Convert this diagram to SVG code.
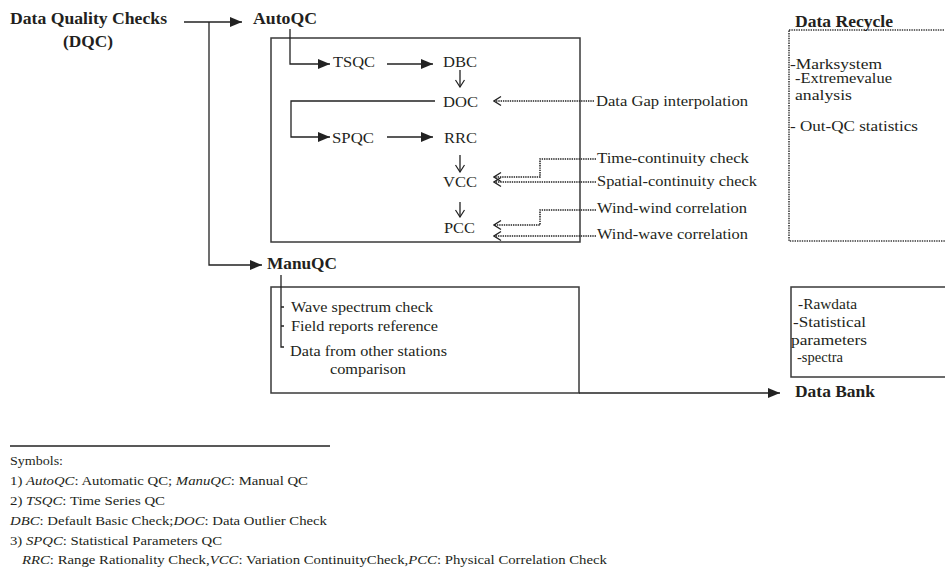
<svg xmlns="http://www.w3.org/2000/svg" width="945" height="568" viewBox="0 0 945 568">
  <style>
    text { font-family: "Liberation Serif", "Times New Roman", serif; fill: #231f20; }
    .b { font-weight: bold; font-size: 16.5px; }
    .r { font-size: 14.5px; }
    .s { font-size: 14.5px; }
    .lg { font-size: 13px; }
    .box { fill: none; stroke: #3a3a3a; stroke-width: 1.5; }
    .dbox { fill: none; stroke: #3a3a3a; stroke-width: 1.6; stroke-dasharray: 1.4 1; }
    .ln { fill: none; stroke: #222; stroke-width: 1.3; }
    .dot { fill: none; stroke: #222; stroke-width: 1.5; stroke-dasharray: 1.4 0.9; }
  </style>
  <defs>
    <marker id="solid" viewBox="0 0 12 10" refX="12" refY="5" markerWidth="12" markerHeight="10" orient="auto" markerUnits="userSpaceOnUse">
      <path d="M0,0 L12,5 L0,10 z" fill="#222"/>
    </marker>
    <marker id="open" viewBox="-8 -6 9 12" refX="0" refY="0" markerWidth="9" markerHeight="12" orient="auto" markerUnits="userSpaceOnUse">
      <path d="M-7,-4.5 L0,0 L-7,4.5" fill="none" stroke="#222" stroke-width="1.2"/>
    </marker>
    <marker id="chev" viewBox="-8 -6 9 12" refX="0" refY="0" markerWidth="9" markerHeight="12" orient="auto" markerUnits="userSpaceOnUse">
      <path d="M-7,-4.5 L0,0 L-7,4.5" fill="none" stroke="#222" stroke-width="1.3"/>
    </marker>
  </defs>

  <!-- containers -->
  <g id="autoqc-box"><rect class="box" x="271" y="38" width="309" height="204"/></g>
  <g id="manuqc-box"><rect class="box" x="271" y="287" width="308" height="106"/></g>
  <g id="recycle-box"><rect class="dbox" x="789" y="30" width="180" height="211"/></g>
  <g id="bank-box"><rect class="box" x="791" y="287" width="180" height="90"/></g>

  <!-- connectors -->
  <g id="connectors">
    <path class="ln" d="M184,22 H242" marker-end="url(#solid)"/>
    <path class="ln" d="M209,22 V265 H262" marker-end="url(#solid)"/>
    <path class="ln" d="M290,29 V64 H330" marker-end="url(#solid)"/>
    <path class="ln" d="M387,64 H433" marker-end="url(#solid)"/>
    <path class="ln" d="M460,70 V87" marker-end="url(#open)"/>
    <path class="ln" d="M435,101 H291 V137 H330" marker-end="url(#solid)"/>
    <path class="ln" d="M387,137 H433" marker-end="url(#solid)"/>
    <path class="ln" d="M460,155 V172" marker-end="url(#open)"/>
    <path class="ln" d="M460,202 V217" marker-end="url(#open)"/>
    <path class="ln" d="M579,393 H780" marker-end="url(#solid)"/>
    <path class="ln" d="M281,275 V347 H284 M281,307 H284 M281,326 H284"/>
    <path class="dot" d="M594,101 H494" marker-end="url(#chev)"/>
    <path class="dot" d="M596,159 H540 V177 H494" marker-end="url(#chev)"/>
    <path class="dot" d="M596,182 H494" marker-end="url(#chev)"/>
    <path class="dot" d="M596,210 H540 V225 H494" marker-end="url(#chev)"/>
    <path class="dot" d="M596,236 H494" marker-end="url(#chev)"/>
  </g>

  <!-- headings -->
  <g id="dqc">
    <text class="b" x="10" y="24" textLength="157" lengthAdjust="spacingAndGlyphs">Data Quality Checks</text>
    <text class="b" x="63" y="47" textLength="50" lengthAdjust="spacingAndGlyphs">(DQC)</text>
  </g>
  <g id="autoqc"><text class="b" x="253" y="24" textLength="64" lengthAdjust="spacingAndGlyphs">AutoQC</text></g>
  <g id="manuqc"><text class="b" x="267" y="269" textLength="70" lengthAdjust="spacingAndGlyphs">ManuQC</text></g>

  <!-- automatic QC steps -->
  <g id="tsqc"><text class="r" x="333" y="67" textLength="42" lengthAdjust="spacingAndGlyphs">TSQC</text></g>
  <g id="dbc"><text class="r" x="443" y="67" textLength="34" lengthAdjust="spacingAndGlyphs">DBC</text></g>
  <g id="doc"><text class="r" x="443" y="107" textLength="35" lengthAdjust="spacingAndGlyphs">DOC</text></g>
  <g id="spqc"><text class="r" x="332" y="143" textLength="42" lengthAdjust="spacingAndGlyphs">SPQC</text></g>
  <g id="rrc"><text class="r" x="444" y="143" textLength="33" lengthAdjust="spacingAndGlyphs">RRC</text></g>
  <g id="vcc"><text class="r" x="443" y="187" textLength="34" lengthAdjust="spacingAndGlyphs">VCC</text></g>
  <g id="pcc"><text class="r" x="444" y="233" textLength="31" lengthAdjust="spacingAndGlyphs">PCC</text></g>

  <!-- external inputs -->
  <g id="gap"><text class="r" x="596" y="106" textLength="152" lengthAdjust="spacingAndGlyphs">Data Gap interpolation</text></g>
  <g id="time-cont"><text class="r" x="597" y="163" textLength="152" lengthAdjust="spacingAndGlyphs">Time-continuity check</text></g>
  <g id="spatial-cont"><text class="r" x="597" y="186" textLength="160" lengthAdjust="spacingAndGlyphs">Spatial-continuity check</text></g>
  <g id="wind-wind"><text class="r" x="597" y="213" textLength="150" lengthAdjust="spacingAndGlyphs">Wind-wind correlation</text></g>
  <g id="wind-wave"><text class="r" x="597" y="239" textLength="151" lengthAdjust="spacingAndGlyphs">Wind-wave correlation</text></g>

  <!-- manual QC items -->
  <g id="manual-items">
    <text class="r" x="291" y="312" textLength="142" lengthAdjust="spacingAndGlyphs">Wave spectrum check</text>
    <text class="r" x="291" y="331" textLength="147" lengthAdjust="spacingAndGlyphs">Field reports reference</text>
    <text class="r" x="290" y="356" textLength="157" lengthAdjust="spacingAndGlyphs">Data from other stations</text>
    <text class="r" x="330" y="374" textLength="76" lengthAdjust="spacingAndGlyphs">comparison</text>
  </g>

  <!-- data recycle -->
  <g id="data-recycle">
    <text class="b" x="795" y="27" textLength="98" lengthAdjust="spacingAndGlyphs">Data Recycle</text>
    <text class="s" x="790" y="69" textLength="92" lengthAdjust="spacingAndGlyphs">-Marksystem</text>
    <text class="s" x="795" y="83" textLength="97" lengthAdjust="spacingAndGlyphs">-Extremevalue</text>
    <text class="s" x="795" y="100" textLength="57" lengthAdjust="spacingAndGlyphs">analysis</text>
    <text class="s" x="790" y="131" textLength="128" lengthAdjust="spacingAndGlyphs">- Out-QC statistics</text>
  </g>

  <!-- data bank -->
  <g id="data-bank">
    <text class="s" x="798" y="309" textLength="59" lengthAdjust="spacingAndGlyphs">-Rawdata</text>
    <text class="s" x="793" y="327" textLength="73" lengthAdjust="spacingAndGlyphs">-Statistical</text>
    <text class="s" x="791" y="345" textLength="76" lengthAdjust="spacingAndGlyphs">parameters</text>
    <text class="s" x="797" y="362" textLength="46" lengthAdjust="spacingAndGlyphs">-spectra</text>
    <text class="b" x="795" y="397" textLength="80" lengthAdjust="spacingAndGlyphs">Data Bank</text>
  </g>

  <!-- legend -->
  <g id="legend">
    <path class="ln" d="M10,446 H330"/>
    <text class="lg" x="10" y="465" textLength="53" lengthAdjust="spacingAndGlyphs">Symbols:</text>
    <text class="lg" x="10" y="485" textLength="298" lengthAdjust="spacingAndGlyphs">1) <tspan font-style="italic">AutoQC</tspan>: Automatic QC; <tspan font-style="italic">ManuQC</tspan>: Manual QC</text>
    <text class="lg" x="10" y="505" textLength="155" lengthAdjust="spacingAndGlyphs">2) <tspan font-style="italic">TSQC</tspan>: Time Series QC</text>
    <text class="lg" x="10" y="525" textLength="317" lengthAdjust="spacingAndGlyphs"><tspan font-style="italic">DBC</tspan>: Default Basic Check;<tspan font-style="italic">DOC</tspan>: Data Outlier Check</text>
    <text class="lg" x="10" y="545" textLength="212" lengthAdjust="spacingAndGlyphs">3) <tspan font-style="italic">SPQC</tspan>: Statistical Parameters QC</text>
    <text class="lg" x="22" y="564" textLength="585" lengthAdjust="spacingAndGlyphs"><tspan font-style="italic">RRC</tspan>: Range Rationality Check,<tspan font-style="italic">VCC</tspan>: Variation ContinuityCheck,<tspan font-style="italic">PCC</tspan>: Physical Correlation Check</text>
  </g>
</svg>
